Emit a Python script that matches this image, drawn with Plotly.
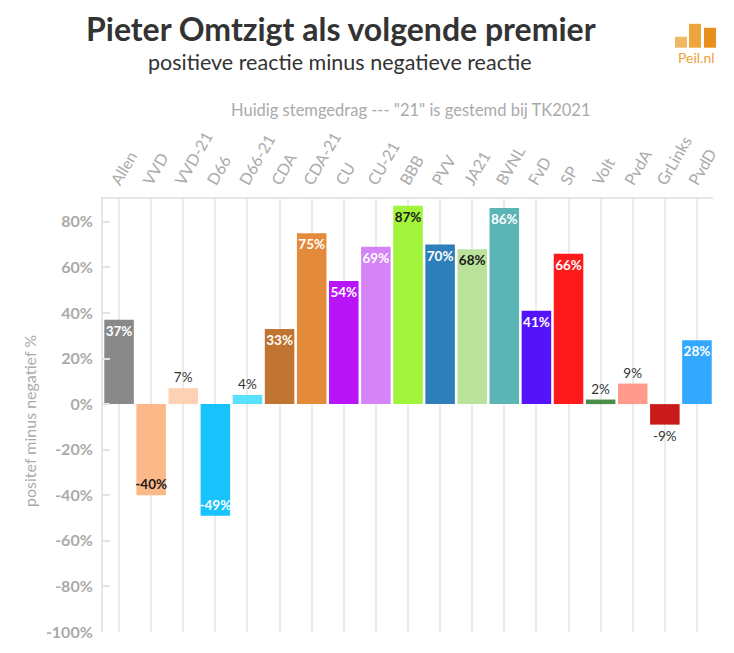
import plotly.graph_objects as go

categories = ["Allen", "VVD", "VVD-21", "D66", "D66-21", "CDA", "CDA-21", "CU", "CU-21",
              "BBB", "PVV", "JA21", "BVNL", "FvD", "SP", "Volt", "PvdA", "GrLinks", "PvdD"]
values = [37, -40, 7, -49, 4, 33, 75, 54, 69, 87, 70, 68, 86, 41, 66, 2, 9, -9, 28]
colors = ["#898989", "#fdb88a", "#fdd2b4", "#17c2fd", "#5ce1fd", "#c07532", "#e38b3b",
          "#b814f7", "#d584f7", "#a2f53c", "#2e7fb9", "#bbe29b", "#5bb5b5", "#5513f9",
          "#fe1a1a", "#4c8c4a", "#fe9b8c", "#cb1a1a", "#33a8fe"]
dark_label = ["BBB", "JA21", "VVD"]
y_ticks = [-100, -80, -60, -40, -20, 0, 20, 40, 60, 80]

# the page body adds an 8px offset; work in screen coordinates and subtract it
OFF = 8
W, H = 734 - OFF, 653 - OFF
L, R, T, B = 103 - OFF, 713 - OFF, 199 - OFF, 634 - OFF

def px(x):
    return (x - OFF - L) / (R - L)

def py(y):
    return (B - (y - OFF)) / (B - T)

text = [f"{v}%" for v in values]
positions = ["inside" if abs(v) >= 20 else "outside" for v in values]
inside_colors = ["#1a1a1a" if c in dark_label else "#ffffff" for c in categories]

fig = go.Figure()
fig.add_trace(go.Bar(
    x=categories, y=values,
    marker=dict(color=colors, line=dict(width=0)),
    text=text, textposition=positions, textangle=0,
    insidetextanchor="end",
    insidetextfont=dict(family="Lato", size=13.5, color=inside_colors, weight="bold"),
    outsidetextfont=dict(family="Lato", size=13.5, color="#333333"),
    constraintext="none", cliponaxis=False,
    hoverinfo="skip",
))

font_main = "Lato"
annotations = [
    dict(text="<b>Pieter Omtzigt als volgende premier</b>", x=px(341), y=py(28),
         font=dict(family=font_main, size=32, color="#333333")),
    dict(text="positieve reactie minus negatieve reactie", x=px(340), y=py(61),
         font=dict(family=font_main, size=21.5, color="#333333")),
    dict(text='Huidig stemgedrag --- "21" is gestemd bij TK2021', x=px(411), y=py(110),
         font=dict(family=font_main, size=16.5, color="#aaaaaa")),
    dict(text="positef minus negatief %", x=px(30), y=py(422), textangle=-90,
         font=dict(family=font_main, size=16, color="#aaaaaa")),
    dict(text="Peil.nl", x=px(696), y=py(57),
         font=dict(family=font_main, size=14, color="#eda23a")),
]
for a in annotations:
    a.update(xref="paper", yref="paper", showarrow=False, xanchor="center", yanchor="middle")

shapes = [
    dict(type="rect", x0=px(675), x1=px(687), y0=py(47), y1=py(36), fillcolor="#f2b766"),
    dict(type="rect", x0=px(689), x1=px(701), y0=py(47), y1=py(23), fillcolor="#f0a53c"),
    dict(type="rect", x0=px(704), x1=px(716), y0=py(47), y1=py(27), fillcolor="#e98f1c"),
]
for s in shapes:
    s.update(xref="paper", yref="paper", line=dict(width=0), layer="above")

fig.update_layout(
    width=W, height=H,
    margin=dict(l=L, r=W - R, t=T, b=H - B),
    paper_bgcolor="white", plot_bgcolor="white",
    bargap=0.08, showlegend=False,
    annotations=annotations, shapes=shapes,
    font=dict(family=font_main),
    xaxis=dict(
        side="top", tickangle=-60, range=[-0.5, len(categories) - 0.5],
        showgrid=True, gridcolor="#ebebeb", gridwidth=1.5,
        showline=True, linecolor="#e6e6e6", linewidth=2, mirror=False,
        ticks="", ticklabelshift=-6,
        tickfont=dict(family=font_main, size=16, color="#aaaaaa"),
        fixedrange=True,
    ),
    yaxis=dict(
        range=[-100, 90], tickvals=y_ticks, ticktext=[f"{t}%" for t in y_ticks],
        showgrid=False, zeroline=False,
        showline=True, linecolor="#e6e6e6", linewidth=2,
        ticks="inside", ticklen=7, tickcolor="#e3e3e3", tickwidth=1.5,
        ticklabelstandoff=5,
        tickfont=dict(family=font_main, size=16, color="#aaaaaa", weight="bold"),
        fixedrange=True,
    ),
)

fig.write_html("out.html")
